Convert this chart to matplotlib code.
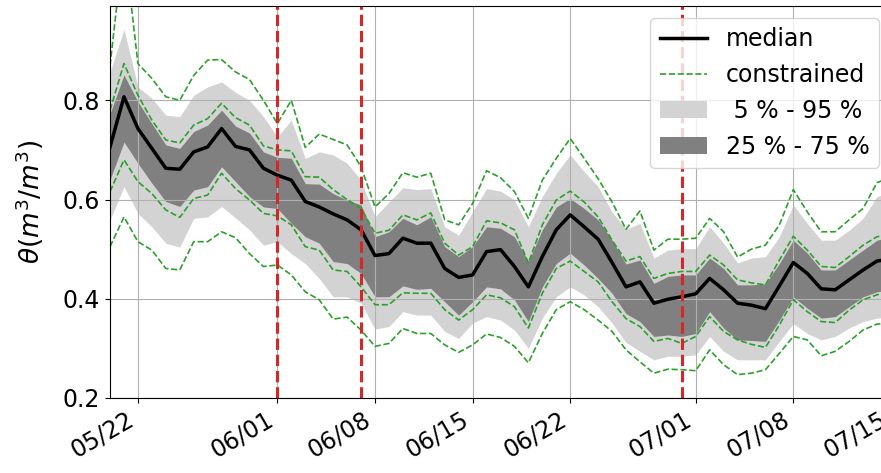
import datetime

import matplotlib
matplotlib.use("Agg")
import matplotlib.pyplot as plt
import matplotlib.dates as mdates
import numpy as np

start_day = datetime.date(2018, 5, 20)
n_days = 57
events = ["2018-06-01", "2018-06-07", "2018-06-30"]

median = [0.706, 0.807, 0.743, 0.703, 0.663, 0.661, 0.696, 0.706, 0.743, 0.707,
          0.700, 0.663, 0.649, 0.639, 0.596, 0.585, 0.571, 0.559, 0.539, 0.487,
          0.491, 0.522, 0.512, 0.512, 0.461, 0.443, 0.448, 0.495, 0.499, 0.465,
          0.424, 0.485, 0.539, 0.569, 0.545, 0.520, 0.473, 0.424, 0.434, 0.391,
          0.399, 0.404, 0.410, 0.441, 0.418, 0.391, 0.387, 0.380, 0.426, 0.473,
          0.451, 0.420, 0.418, 0.438, 0.458, 0.476, 0.480]

q05 = [0.559, 0.626, 0.572, 0.545, 0.512, 0.504, 0.562, 0.565, 0.586, 0.563,
       0.539, 0.508, 0.515, 0.491, 0.471, 0.441, 0.404, 0.404, 0.391, 0.339,
       0.344, 0.374, 0.367, 0.367, 0.334, 0.320, 0.351, 0.364, 0.357, 0.337,
       0.300, 0.361, 0.404, 0.424, 0.408, 0.384, 0.351, 0.312, 0.294, 0.277,
       0.284, 0.284, 0.287, 0.324, 0.294, 0.277, 0.277, 0.277, 0.314, 0.350,
       0.330, 0.317, 0.324, 0.341, 0.354, 0.361, 0.363]

q25 = [0.640, 0.716, 0.673, 0.633, 0.596, 0.586, 0.619, 0.626, 0.666, 0.636,
       0.606, 0.585, 0.582, 0.552, 0.525, 0.512, 0.475, 0.471, 0.451, 0.404,
       0.404, 0.426, 0.419, 0.421, 0.394, 0.367, 0.394, 0.424, 0.420, 0.398,
       0.354, 0.424, 0.471, 0.492, 0.468, 0.441, 0.411, 0.370, 0.354, 0.324,
       0.327, 0.324, 0.330, 0.374, 0.341, 0.317, 0.316, 0.314, 0.357, 0.404,
       0.381, 0.361, 0.364, 0.384, 0.404, 0.414, 0.418]

q75 = [0.773, 0.851, 0.797, 0.753, 0.710, 0.703, 0.737, 0.750, 0.780, 0.748,
       0.734, 0.696, 0.685, 0.683, 0.632, 0.631, 0.612, 0.599, 0.589, 0.525,
       0.535, 0.562, 0.549, 0.565, 0.505, 0.485, 0.505, 0.545, 0.542, 0.525,
       0.475, 0.539, 0.585, 0.602, 0.582, 0.559, 0.518, 0.470, 0.478, 0.431,
       0.445, 0.448, 0.448, 0.482, 0.461, 0.428, 0.428, 0.430, 0.471, 0.518,
       0.492, 0.458, 0.458, 0.478, 0.498, 0.518, 0.525]

q95 = [0.857, 0.943, 0.827, 0.804, 0.770, 0.767, 0.810, 0.827, 0.837, 0.816,
       0.800, 0.767, 0.726, 0.760, 0.683, 0.696, 0.690, 0.673, 0.639, 0.565,
       0.595, 0.624, 0.620, 0.622, 0.545, 0.528, 0.575, 0.622, 0.617, 0.599,
       0.545, 0.606, 0.653, 0.690, 0.656, 0.626, 0.575, 0.540, 0.552, 0.482,
       0.498, 0.501, 0.501, 0.545, 0.512, 0.472, 0.482, 0.485, 0.525, 0.589,
       0.552, 0.518, 0.518, 0.538, 0.562, 0.606, 0.615]

# constrained ensemble percentiles (5, 25, 75, 95)
c05 = [0.505, 0.565, 0.515, 0.498, 0.461, 0.458, 0.515, 0.515, 0.535, 0.523,
       0.491, 0.465, 0.468, 0.448, 0.414, 0.398, 0.359, 0.363, 0.337, 0.304,
       0.310, 0.340, 0.330, 0.330, 0.307, 0.292, 0.307, 0.329, 0.322, 0.304,
       0.271, 0.330, 0.378, 0.394, 0.378, 0.357, 0.334, 0.297, 0.273, 0.250,
       0.258, 0.257, 0.255, 0.297, 0.267, 0.247, 0.250, 0.257, 0.290, 0.324,
       0.317, 0.285, 0.294, 0.314, 0.337, 0.349, 0.350]

c25 = [0.616, 0.680, 0.636, 0.612, 0.579, 0.564, 0.602, 0.609, 0.653, 0.622,
       0.599, 0.572, 0.567, 0.549, 0.505, 0.498, 0.458, 0.455, 0.424, 0.388,
       0.388, 0.412, 0.411, 0.411, 0.378, 0.357, 0.378, 0.408, 0.402, 0.384,
       0.341, 0.411, 0.461, 0.476, 0.455, 0.434, 0.394, 0.360, 0.344, 0.314,
       0.320, 0.310, 0.324, 0.364, 0.334, 0.317, 0.308, 0.302, 0.347, 0.398,
       0.374, 0.354, 0.352, 0.377, 0.398, 0.408, 0.412]

c75 = [0.780, 0.874, 0.810, 0.760, 0.720, 0.714, 0.750, 0.763, 0.794, 0.765,
       0.750, 0.708, 0.700, 0.698, 0.646, 0.645, 0.620, 0.600, 0.582, 0.532,
       0.538, 0.569, 0.559, 0.573, 0.512, 0.488, 0.505, 0.557, 0.553, 0.539,
       0.472, 0.549, 0.599, 0.617, 0.595, 0.565, 0.518, 0.476, 0.485, 0.441,
       0.451, 0.455, 0.455, 0.488, 0.468, 0.438, 0.432, 0.428, 0.478, 0.526,
       0.498, 0.465, 0.463, 0.485, 0.508, 0.525, 0.530]

c95 = [0.870, 1.120, 0.874, 0.844, 0.807, 0.800, 0.850, 0.881, 0.882, 0.857,
       0.842, 0.800, 0.753, 0.800, 0.705, 0.732, 0.721, 0.710, 0.666, 0.585,
       0.612, 0.654, 0.645, 0.653, 0.559, 0.549, 0.592, 0.658, 0.644, 0.616,
       0.562, 0.639, 0.683, 0.723, 0.683, 0.642, 0.595, 0.540, 0.577, 0.498,
       0.520, 0.520, 0.522, 0.562, 0.535, 0.484, 0.500, 0.508, 0.549, 0.620,
       0.575, 0.535, 0.535, 0.559, 0.582, 0.634, 0.645]


def plot_percentiles():
    days = [start_day + datetime.timedelta(days=k) for k in range(n_days)]

    fig = plt.figure(figsize=(8.81, 4.73), dpi=100)
    # axes runs a bit past the right edge of the figure, like the original crop
    ax = fig.add_axes([0.1249, 0.1586, 0.8864, 0.8287])

    ax.fill_between(days, q05, q95, color="lightgrey", linewidth=0,
                    label=" 5 % - 95 %")
    ax.fill_between(days, q25, q75, color="grey", linewidth=0,
                    label="25 % - 75 %")
    ax.plot(days, median, color="black", linewidth=2.5, label="median")
    for c in [c05, c25, c75, c95]:
        ax.plot(days, c, color="tab:green", linestyle="--",
                linewidth=1.2, label="constrained")

    for e in events:
        ax.axvline(np.datetime64(e), color="tab:red", linestyle="--",
                   linewidth=2.2)

    ax.set_xlim(days[0], days[-1])
    ax.set_ylim(0.2, 0.99)
    ax.set_yticks([0.2, 0.4, 0.6, 0.8])
    ax.xaxis.set_major_locator(mdates.DayLocator(bymonthday=[1, 8, 15, 22]))
    ax.xaxis.set_major_formatter(mdates.DateFormatter("%m/%d"))
    plt.setp(ax.get_xticklabels(), rotation=30, ha="right")
    ax.tick_params(labelsize=17)
    ax.set_ylabel(r"$\theta (m^3/m^3)$", fontsize=19, labelpad=12)
    ax.grid(True)

    handles, labels = ax.get_legend_handles_labels()
    lookup = dict(zip(labels, handles))
    order = ["median", "constrained", " 5 % - 95 %", "25 % - 75 %"]
    ax.legend([lookup[k] for k in order], order, loc="upper right",
              fontsize=17)

    fig.savefig("out.png", dpi=100)


if __name__ == "__main__":
    plot_percentiles()
